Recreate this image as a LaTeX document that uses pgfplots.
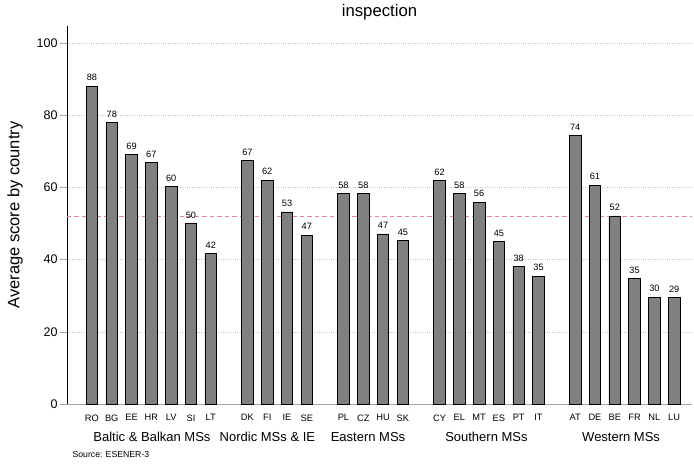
\documentclass[border=0pt]{standalone}
\usepackage{fontspec}
\setmainfont{Liberation Sans}
\usepackage{pgfplots}
\pgfplotsset{compat=1.18}
\usepackage{pgfplotstable}
\definecolor{barfill}{RGB}{128,128,128}
\definecolor{refline}{RGB}{224,130,182}
\pgfplotstableread{
x y lab
0 88.0 RO
1 78.0 BG
2 69.0 EE
3 66.8 HR
4 60.2 LV
5 50.0 SI
6 41.6 LT
7.85 67.4 DK
8.85 62.0 FI
9.85 53.2 IE
10.85 46.8 SE
12.7 58.3 PL
13.7 58.3 CZ
14.7 47.1 HU
15.7 45.3 SK
17.55 61.8 CY
18.55 58.2 EL
19.55 55.9 MT
20.55 44.9 ES
21.55 38.1 PT
22.55 35.4 IT
24.4 74.4 AT
25.4 60.6 DE
26.4 52.1 BE
27.4 34.8 FR
28.4 29.6 NL
29.4 29.4 LU
}\data
\begin{document}
\begin{tikzpicture}
\path[use as bounding box] (-67pt,-60pt) rectangle (627pt,404pt);
\begin{axis}[
  width=625pt, height=378pt, scale only axis,
  xmin=-1.26, xmax=30.3, ymin=0, ymax=104.7,
  clip=false,
  axis x line*=bottom, axis y line*=left,
  x axis line style={gray!70},
  y axis line style={black},
  xtick={0,1,2,3,4,5,6,7.85,8.85,9.85,10.85,12.7,13.7,14.7,15.7,17.55,18.55,19.55,20.55,21.55,22.55,24.4,25.4,26.4,27.4,28.4,29.4},
  xticklabels from table={\data}{lab},
  xtick style={draw=none},
  xticklabel style={font=\fontsize{9.3}{11}\selectfont},
  ytick={0,20,40,60,80,100},
  ytick style={gray!70},
  tick align=outside,
  major tick length=7pt,
  yticklabel style={font=\fontsize{12.5}{15}\selectfont, xshift=1pt},
  /pgf/number format/assume math mode=true,
  ymajorgrids,
  grid style={dotted, gray!50},
  ylabel={Average score by country},
  ylabel style={font=\fontsize{16.5}{18}\selectfont, at={(axis description cs:-0.083,0.5)}, anchor=center},
]
\addplot[draw=refline, color=refline, line width=1pt, dash pattern=on 4.5pt off 3pt, forget plot, sharp plot, no marks]
  coordinates {(-1.26,51.8) (30.3,51.8)};
\addplot[ybar, bar width=11.6pt, fill=barfill, draw=black, line width=0.8pt,
  nodes near coords={\pgfmathprintnumber[fixed,precision=0]{\pgfplotspointmeta}},
  point meta=y,
  every node near coord/.append style={font=\fontsize{9.2}{10}\selectfont, black, yshift=1.5pt}]
  table[x=x, y=y] {\data};
\node[font=\fontsize{16.7}{18}\selectfont, anchor=base] at (axis description cs:0.5,1) [yshift=9pt] {inspection};
\node[font=\fontsize{13}{15}\selectfont] at (axis cs:3.03,0) [yshift=-33pt] {Baltic \& Balkan MSs};
\node[font=\fontsize{13}{15}\selectfont] at (axis cs:8.86,0) [yshift=-33pt] {Nordic MSs \& IE};
\node[font=\fontsize{13}{15}\selectfont] at (axis cs:13.94,0) [yshift=-33pt] {Eastern MSs};
\node[font=\fontsize{13}{15}\selectfont] at (axis cs:19.92,0) [yshift=-33pt] {Southern MSs};
\node[font=\fontsize{13}{15}\selectfont] at (axis cs:26.72,0) [yshift=-33pt] {Western MSs};
\node[font=\fontsize{8.7}{10}\selectfont, anchor=west] at (rel axis cs:0,0) [xshift=2pt, yshift=-51pt] {Source: ESENER-3};
\end{axis}
\end{tikzpicture}
\end{document}
